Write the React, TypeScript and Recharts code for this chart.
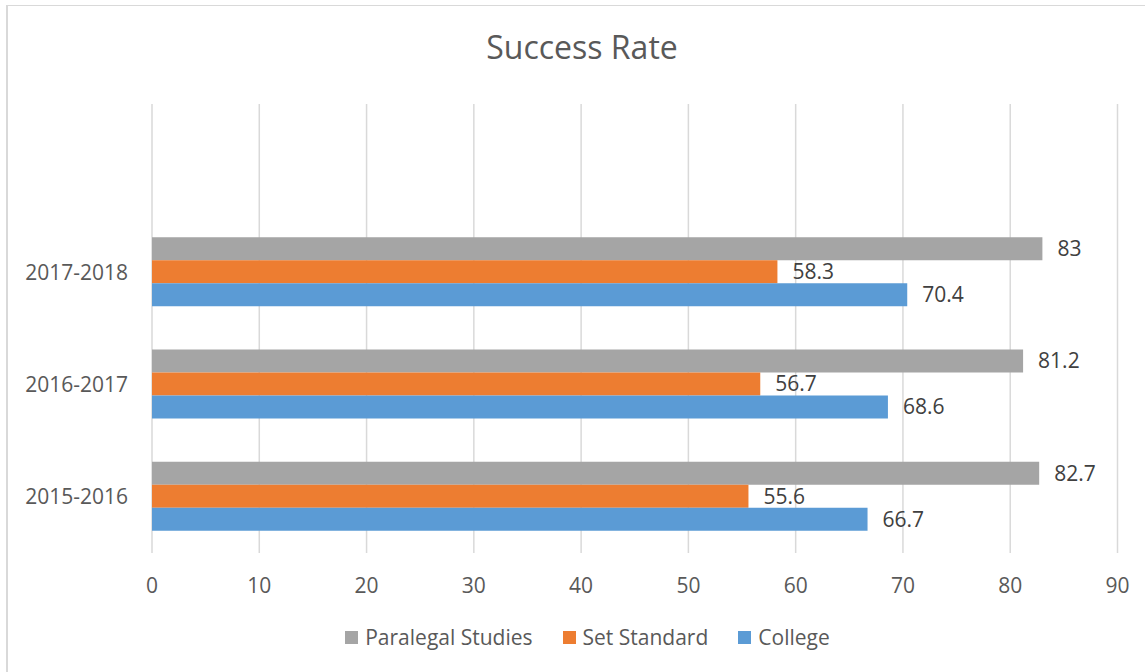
import React from 'react';
import { BarChart, Bar, XAxis, YAxis, CartesianGrid, Legend, LabelList } from 'recharts';

// Academic years, bottom to top; the last slot is an empty row kept in the range.
const categories = ['2015-2016', '2016-2017', '2017-2018', ''];
const paralegalStudies = [82.7, 81.2, 83, null];
const setStandard = [55.6, 56.7, 58.3, null];
const college = [66.7, 68.6, 70.4, null];
const xTicks = [0, 10, 20, 30, 40, 50, 60, 70, 80, 90];

const series = [
  { key: 'paralegal', name: 'Paralegal Studies', color: '#A5A5A5' },
  { key: 'standard', name: 'Set Standard', color: '#ED7D31' },
  { key: 'college', name: 'College', color: '#5B9BD5' },
];

const rows = categories.map((period, i) => ({
  period,
  paralegal: paralegalStudies[i],
  standard: setStandard[i],
  college: college[i],
}));

const FONT = '"Open Sans", sans-serif';
const AXIS_TEXT = '#595959';
const LABEL_TEXT = '#404040';

function LegendRow() {
  return (
    <div
      style={{
        display: 'flex',
        justifyContent: 'center',
        alignItems: 'center',
        height: 30,
        width: 1145,
        paddingLeft: 30,
        boxSizing: 'border-box',
        fontFamily: FONT,
        fontSize: 21,
        color: AXIS_TEXT,
      }}
    >
      {series.map((s, i) => (
        <div
          key={s.key}
          style={{ display: 'flex', alignItems: 'center', marginLeft: i === 0 ? 0 : 30 }}
        >
          <span style={{ display: 'inline-block', width: 13, height: 13, background: s.color, marginRight: 7 }} />
          <span>{s.name}</span>
        </div>
      ))}
    </div>
  );
}

export default function App() {
  return (
    <div
      style={{
        position: 'absolute',
        left: 0,
        top: 0,
        width: 1145,
        height: 672,
        overflow: 'hidden',
        background: '#FFFFFF',
        fontFamily: FONT,
      }}
    >
      {/* chart frame */}
      <div
        style={{
          position: 'absolute',
          left: 6,
          top: 5,
          width: 1160,
          height: 700,
          borderLeft: '2px solid #D9D9D9',
          borderTop: '1px solid #D9D9D9',
        }}
      />
      <div
        style={{
          position: 'absolute',
          left: 0,
          top: 25,
          width: 1164,
          textAlign: 'center',
          fontSize: 32,
          color: AXIS_TEXT,
          lineHeight: 'normal',
        }}
      >
        Success Rate
      </div>
      <div style={{ position: 'absolute', left: 0, top: 0 }}>
        <BarChart
          width={1145}
          height={672}
          data={rows}
          layout="vertical"
          margin={{ top: 104, right: 27.5, bottom: 20, left: 0 }}
          barCategoryGap={21}
          barGap={0}
        >
          <CartesianGrid horizontal={false} stroke="#D9D9D9" strokeWidth={1.5} />
          <XAxis
            type="number"
            domain={[0, 90]}
            ticks={xTicks}
            interval={0}
            height={69}
            axisLine={false}
            tickLine={false}
            tickSize={0}
            tickMargin={25}
            tick={{ fontSize: 21, fill: AXIS_TEXT, fontFamily: FONT }}
          />
          <YAxis
            type="category"
            dataKey="period"
            reversed
            width={152}
            axisLine={false}
            tickLine={false}
            tickSize={0}
            tickMargin={24}
            interval={0}
            tick={{ fontSize: 21, fill: AXIS_TEXT, fontFamily: FONT }}
          />
          <Legend verticalAlign="bottom" align="center" wrapperStyle={{ left: 0, width: 1145 }} content={() => <LegendRow />} />
          {series.map((s) => (
            <Bar key={s.key} dataKey={s.key} name={s.name} fill={s.color} isAnimationActive={false}>
              <LabelList
                dataKey={s.key}
                position="right"
                offset={15}
                fill={LABEL_TEXT}
                fontSize={21}
                fontFamily={FONT}
              />
            </Bar>
          ))}
        </BarChart>
      </div>
    </div>
  );
}
